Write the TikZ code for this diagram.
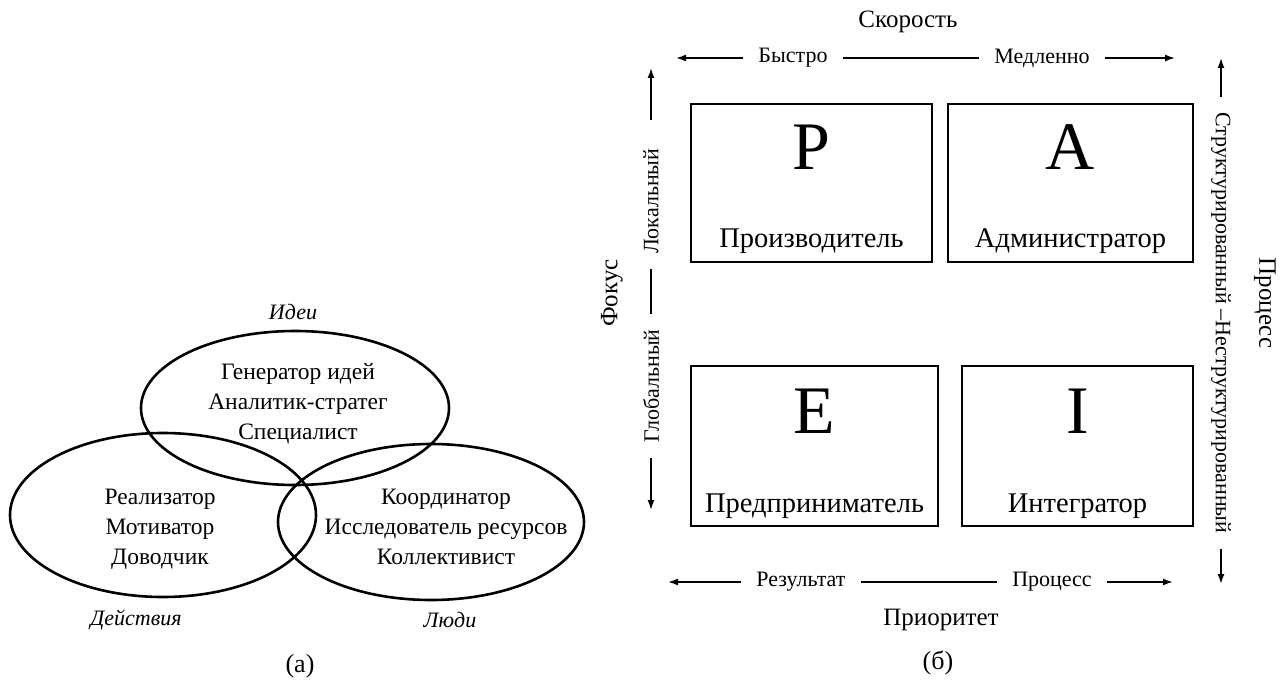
\documentclass[tikz,border=0pt]{standalone}
\usepackage{fontspec}
\setmainfont{Liberation Serif}
\usetikzlibrary{arrows.meta,positioning,shapes.geometric}

\begin{document}
\begin{tikzpicture}[
    x=1pt, y=-1pt,
    oval/.style={draw, ellipse, line width=2.6pt, inner sep=0pt},
    role/.style={align=center, font=\fontsize{23.5}{30}\selectfont},
    realm/.style={font=\fontsize{22}{26}\selectfont\itshape},
    quad/.style={draw, line width=1.3pt, inner sep=0pt},
    letter/.style={inner sep=0pt, font=\fontsize{68}{70}\selectfont},
    kind/.style={inner sep=0pt, font=\fontsize{28.5}{30}\selectfont},
    pole/.style={inner xsep=15pt, inner ysep=2pt, font=\fontsize{22}{26}\selectfont},
    axis/.style={font=\fontsize{25}{28}\selectfont},
    caption/.style={font=\fontsize{26}{30}\selectfont},
    arrow/.style={-{Latex[length=10pt,width=7pt]}, line width=1.6pt},
    bar/.style={line width=1.6pt}
]
    \useasboundingbox (0,0) rectangle (1287,682);

    % (a) three circles of roles
    \node[oval, minimum width=308pt, minimum height=154pt] (ideas) at (295,408) {};
    \node[oval, minimum width=306pt, minimum height=164pt] (deeds) at (163,515) {};
    \node[oval, minimum width=306pt, minimum height=156pt] (people) at (431,522) {};
    \node[role] (ideastext) at (298,404) {Генератор идей\\Аналитик-стратег\\Специалист};
    \node[role] (deedstext) at (160,529) {Реализатор\\Мотиватор\\Доводчик};
    \node[role] (peopletext) at (446,527) {Координатор\\Исследователь ресурсов\\Коллективист};
    \node[realm] (ideaslabel) at (293,312) {Идеи};
    \node[realm] (deedslabel) at (136,620) {Действия};
    \node[realm] (peoplelabel) at (450,620) {Люди};
    \node[caption] (capa) at (300,666) {(а)};

    % (b) four styles
    \node[quad, minimum width=241pt, minimum height=158pt] (prod) at (811.5,183) {};
    \node[quad, minimum width=245pt, minimum height=158pt] (admin) at (1070.5,183) {};
    \node[quad, minimum width=247pt, minimum height=160pt] (entr) at (814.5,446) {};
    \node[quad, minimum width=231pt, minimum height=160pt] (integ) at (1077.5,446) {};

    \node[letter, below=21pt of prod.north] (pl) {P};
    \node[letter, below=21pt of admin.north] (al) {A};
    \node[letter, below=23pt of entr.north] (el) {E};
    \node[letter, below=23pt of integ.north] (il) {I};
    \node[kind, above=9pt of prod.south] (pk) {Производитель};
    \node[kind, above=9pt of admin.south] (ak) {Администратор};
    \node[kind, above=8pt of entr.south] (ek) {Предприниматель};
    \node[kind, above=8pt of integ.south] (ik) {Интегратор};

    % axes
    \node[axis] (speed) at (908,22) {Скорость};
    \node[pole] (fast) at (793,58) {Быстро};
    \node[pole] (slow) at (1042,58) {Медленно};
    \coordinate (fastend) at (676,58);
    \coordinate (slowend) at (1175,58);
    \draw[arrow] (fast) -- (fastend);
    \draw[bar] (fast) -- (slow);
    \draw[arrow] (slow) -- (slowend);

    \node[axis] (prio) at (941,620) {Приоритет};
    \node[pole] (result) at (801,582) {Результат};
    \node[pole] (proc) at (1052,582) {Процесс};
    \coordinate (resultend) at (668,582);
    \coordinate (procend) at (1173,582);
    \draw[arrow] (result) -- (resultend);
    \draw[bar] (result) -- (proc);
    \draw[arrow] (proc) -- (procend);

    \node[axis, rotate=90] (focus) at (612,293) {Фокус};
    \node[pole, rotate=90] (local) at (651,201) {Локальный};
    \node[pole, rotate=90] (global) at (651,386) {Глобальный};
    \coordinate (localend) at (651,68);
    \coordinate (globalend) at (651,510);
    \draw[arrow, shorten <=13pt] (local) -- (localend);
    \draw[bar] (local) -- (global);
    \draw[arrow] (global) -- (globalend);

    \node[axis, rotate=-90] (process) at (1265,303) {Процесс};
    \node[pole, rotate=-90] (struct) at (1221,323) {Структурированный –Неструктурированный};
    \coordinate (structup) at (1221,58);
    \coordinate (structdown) at (1221,584);
    \draw[arrow] (struct) -- (structup);
    \draw[arrow] (struct) -- (structdown);

    \node[caption] (capb) at (938,663) {(б)};
\end{tikzpicture}
\end{document}
